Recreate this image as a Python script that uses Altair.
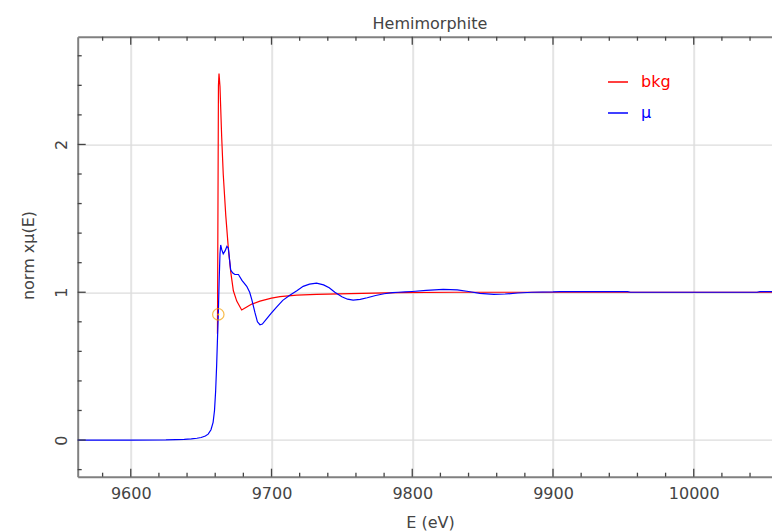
import altair as alt
import pandas as pd

# ---- data ----
E_mu = [9562, 9600, 9625, 9632, 9638, 9643, 9647, 9650, 9653, 9655, 9657, 9658.5,
        9659.5, 9660.3, 9661, 9661.6, 9662.2, 9662.8, 9663.4, 9663.9, 9664.6, 9665.7,
        9667, 9668.3, 9669.3, 9670.2, 9671, 9672.5, 9674, 9676.5, 9679, 9682.4,
        9684.5, 9686, 9688.3, 9690, 9691.8, 9693.5, 9696.5, 9700, 9703.6, 9708,
        9713, 9718, 9722.5, 9727, 9732, 9737, 9741, 9745, 9750, 9754, 9758, 9763,
        9768, 9774, 9780, 9786, 9790, 9795, 9800, 9810, 9822, 9832, 9840, 9848,
        9858, 9866, 9875, 9885, 9900, 9905, 9953, 9955, 10045, 10047, 10060]
mu = [0, 0, 0.001, 0.003, 0.005, 0.008, 0.012, 0.017, 0.027, 0.04, 0.07, 0.12,
      0.2, 0.33, 0.5, 0.68, 0.85, 1.08, 1.26, 1.32, 1.29, 1.26,
      1.28, 1.31, 1.30, 1.22, 1.15, 1.13, 1.12, 1.12, 1.08, 1.04,
      1.0, 0.95, 0.86, 0.80, 0.78, 0.785, 0.82, 0.86, 0.90, 0.945,
      0.98, 1.01, 1.04, 1.055, 1.062, 1.05, 1.03, 1.0, 0.97, 0.953, 0.947, 0.952,
      0.963, 0.978, 0.99, 0.997, 1.0, 1.002, 1.005, 1.013, 1.02, 1.016, 1.005, 0.992,
      0.986, 0.988, 0.995, 1.0, 1.002, 1.004, 1.004, 1.0, 1.0, 1.004, 1.004]

E_bkg = [9661.6, 9662.3, 9662.7, 9663.4, 9664.6, 9665.7, 9667.5, 9669.3, 9671,
         9672.9, 9675.3, 9678.8, 9682.4, 9686, 9691.8, 9700, 9706, 9718, 9732,
         9756, 9790, 9830, 9905, 10060]
bkg = [0.72, 2.40, 2.48, 2.39, 2.05, 1.80, 1.52, 1.30, 1.14,
       1.01, 0.94, 0.88, 0.90, 0.92, 0.94, 0.96, 0.97, 0.98, 0.985,
       0.99, 0.997, 1.0, 1.0, 1.0]

E0 = [9662.2]
E0_mu = [0.85]

series_names = ["bkg", "μ"]
series_colors = ["red", "blue"]

x_major = [9600, 9700, 9800, 9900, 10000]
x_minor = [9580, 9620, 9640, 9660, 9680, 9720, 9740, 9760, 9780, 9820, 9840,
           9860, 9880, 9920, 9940, 9960, 9980, 10020, 10040]
y_major = [0, 1, 2]
y_minor = [-0.2, 0.2, 0.4, 0.6, 0.8, 1.2, 1.4, 1.6, 1.8, 2.2, 2.4, 2.6]

x_domain = [9562.3, 10055.6]
y_domain = [-0.248, 2.729]

assert len(E_mu) == len(mu) and len(E_bkg) == len(bkg)

df = pd.concat([
    pd.DataFrame({"E": E_bkg, "value": bkg, "series": "bkg"}),
    pd.DataFrame({"E": E_mu, "value": mu, "series": "μ"}),
])

# ---- layout ----
W, H = 694.3, 440
FONT = "DejaVu Sans"
TXT = "#444444"
AXC = "#808080"
TICKC = "#444444"

xs = alt.Scale(domain=x_domain, nice=False, zero=False)
ys = alt.Scale(domain=y_domain, nice=False, zero=False)

lines = alt.Chart(df).mark_line(strokeWidth=1.2, clip=True).encode(
    x=alt.X("E:Q", scale=xs, axis=alt.Axis(
        values=x_major, format="d", grid=True, gridColor="#e4e4e4", gridWidth=2,
        domain=True, domainColor=AXC, domainWidth=2,
        ticks=False, tickSize=0, labelPadding=21.6, labelBaseline="alphabetic",
        labelFlush=False, labelFont=FONT, labelFontSize=16, labelColor=TXT,
        title="E (eV)", titleFont=FONT, titleFontSize=16, titleFontWeight="normal",
        titleColor=TXT, titleX=352.3, titleY=50.5, titleBaseline="alphabetic",
        titleAlign="center")),
    y=alt.Y("value:Q", scale=ys, axis=alt.Axis(
        values=y_major, grid=True, gridColor="#dcdcdc", gridWidth=1.3,
        domain=True, domainColor=AXC, domainWidth=2,
        ticks=False, tickSize=0, labelPadding=11.5, labelAngle=270,
        labelAlign="center", labelBaseline="alphabetic", labelFlush=False,
        labelFont=FONT, labelFontSize=16, labelColor=TXT,
        title="norm xμ(E)", titleFont=FONT, titleFontSize=16, titleFontWeight="normal",
        titleColor=TXT, titleAngle=270, titleX=-44, titleY=218.3,
        titleBaseline="alphabetic", titleAlign="center")),
    color=alt.Color("series:N",
                    scale=alt.Scale(domain=series_names, range=series_colors),
                    legend=alt.Legend(
                        orient="none", legendX=529.3, legendY=34.3, title=None,
                        symbolType="stroke", symbolSize=400, symbolStrokeWidth=1.5,
                        labelFont=FONT, labelFontSize=16, labelOffset=12,
                        rowPadding=12, padding=0,
                        labelColor={"expr": "datum.label == 'bkg' ? 'red' : 'blue'"})),
)

top_axis = alt.Chart(pd.DataFrame({"t": x_major})).mark_rule(
    color=TICKC, strokeWidth=1.3).encode(
    x=alt.X("t:Q", scale=xs, axis=alt.Axis(
        orient="top", labels=False, ticks=False, grid=False, domain=True,
        domainColor=AXC, domainWidth=2, title=None)),
    y=alt.value(0), y2=alt.value(8))


def xticks(vals, y0, y1):
    return alt.Chart(pd.DataFrame({"t": vals})).mark_rule(
        color=TICKC, strokeWidth=1.3).encode(
        x=alt.X("t:Q", scale=xs, axis=None), y=alt.value(y0), y2=alt.value(y1))


def yticks(vals, length):
    return alt.Chart(pd.DataFrame({"t": vals})).mark_rule(
        color=TICKC, strokeWidth=1.3).encode(
        y=alt.Y("t:Q", scale=ys, axis=None), x=alt.value(0), x2=alt.value(length))


e0_ring = alt.Chart(pd.DataFrame({"E": E0, "v": E0_mu})).mark_point(
    shape="circle", filled=False, color="#f5a000", size=130, strokeWidth=1.2).encode(
    x=alt.X("E:Q", scale=xs, axis=None), y=alt.Y("v:Q", scale=ys, axis=None))
e0_dot = alt.Chart(pd.DataFrame({"E": E0, "v": E0_mu})).mark_point(
    shape="circle", filled=True, color="#f5a000", size=4, opacity=1).encode(
    x=alt.X("E:Q", scale=xs, axis=None), y=alt.Y("v:Q", scale=ys, axis=None))

chart = alt.layer(
    lines,
    top_axis,
    xticks(x_minor, 0, 4),
    xticks(x_major, H, H - 8),
    xticks(x_minor, H, H - 4),
    yticks(y_major, 8),
    yticks(y_minor, 4),
    e0_ring,
    e0_dot,
).resolve_axis(x="independent", y="independent").properties(
    width=W, height=H,
    padding={"left": 77.7, "top": 36.7, "right": 0, "bottom": 54.3},
    autosize=alt.AutoSizeParams(type="none"),
    title=alt.TitleParams("Hemimorphite", font=FONT, fontSize=16, fontWeight="normal",
                          color=TXT, anchor="middle", frame="group", dx=5.1, dy=17,
                          baseline="alphabetic", offset=8.4),
).configure_view(stroke=None)

chart.save("out.html", embed_options={"renderer": "svg", "actions": False})
